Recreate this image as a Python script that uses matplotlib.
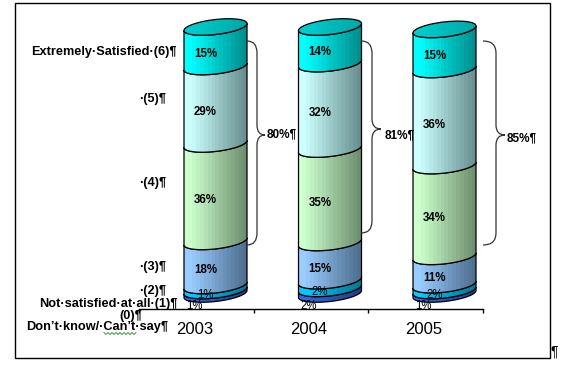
# -*- coding: utf-8 -*-
import numpy as np
import matplotlib
matplotlib.use("Agg")
import matplotlib.pyplot as plt
from matplotlib.patches import Polygon, PathPatch, Rectangle
from matplotlib.path import Path

plt.rcParams['font.family'] = ['Liberation Sans', 'DejaVu Sans']

years = ['2003', '2004', '2005']
# printed percentages
v2003 = [1, 1, 18, 36, 29, 15]
v2004 = [2, 2, 15, 35, 32, 14]
v2005 = [1, 2, 11, 34, 36, 15]
series = [v2003, v2004, v2005]
# layer heights as drawn (thin layers are thicker than their label says)
h2003 = [1.3, 1.9, 16.5, 36.5, 29, 14.8]
h2004 = [2.1, 2.9, 14.3, 35, 32, 13.7]
h2005 = [1.3, 2.2, 10.6, 34, 36, 15]
heights = [h2003, h2004, h2005]
brace_labels = ['80%', '81%', '85%']
level_labels = ['Extremely·Satisfied·(6)', '·(5)', '·(4)', '·(3)', '·(2)',
                'Not·satisfied·at·all·(1)', '(0)', 'Don’t·know/·Can’t·say']

# left and right colour of each layer, bottom to top
light = ['#3366dd', '#00ccff', '#99ccff', '#ccffcc', '#ccffff', '#00ffff']
dark = ['#223f88', '#007a99', '#4f7090', '#6f9070', '#6a9090', '#008f8f']

W, H = 561, 369
PX_PER_PCT = 2.67
Y0 = 294.0      # pixel row of 0%
X0 = 196.5      # pixel column of first category
STEP = 114.5

fig = plt.figure(figsize=(W/100, H/100), dpi=100)
ax = fig.add_axes([0, 0, 1, 1])


def xd(px):
    return (px - X0)/STEP


def yd(py):
    return (Y0 - py)/PX_PER_PCT


def front_arc(cx, v, n=40):
    # front half of the tilted ellipse, left to right
    t = np.linspace(np.pi, 2*np.pi, n)
    x = cx + 31.5*np.cos(t)
    y = Y0 - PX_PER_PCT*v - 7.5*np.sin(t) - 3.5*np.cos(t)
    return xd(x), yd(y)


def back_arc(cx, v, n=40):
    t = np.linspace(0, np.pi, n)
    x = cx + 31.5*np.cos(t)
    y = Y0 - PX_PER_PCT*v - 7.5*np.sin(t) - 3.5*np.cos(t)
    return xd(x), yd(y)


def gradient(c1, c2, n=16):
    a = np.array(matplotlib.colors.to_rgb(c1))
    b = np.array(matplotlib.colors.to_rgb(c2))
    f = np.clip((np.linspace(0, 1, n) - 0.08)/0.92, 0, 1)
    return (a + (b - a)*f[:, None])[None, :, :]


def shaded(pts, c1, c2, cx, z):
    poly = Polygon(pts, closed=True, fc='none', ec='black', lw=0.9, zorder=z+0.1)
    ax.add_patch(poly)
    im = ax.imshow(gradient(c1, c2), extent=[xd(cx-31.5), xd(cx+31.5), yd(330), yd(0)],
                   aspect='auto', interpolation='nearest', zorder=z)
    im.set_clip_path(poly)


for i, vals in enumerate(series):
    cx = X0 + STEP*i + 19
    cum = np.concatenate([[0], np.cumsum(heights[i])])
    z = 2
    for k in range(len(vals)):
        x1, y1 = front_arc(cx, cum[k])
        x2, y2 = front_arc(cx, cum[k+1])
        pts = np.column_stack([np.r_[x1, x2[::-1]], np.r_[y1, y2[::-1]]])
        shaded(pts, light[k], dark[k], cx, z)
        z += 1
        # percentage label
        if k == 0:
            ax.text(i - 0.02, yd(306), '%d%%' % vals[k], fontsize=8.3, ha='center',
                    va='center', zorder=20)
        elif k == 1:
            ax.text(xd(cx - 10), (cum[k] + cum[k+1])/2 - 7/PX_PER_PCT, '%d%%' % vals[k],
                    fontsize=8.3, ha='center', va='center', zorder=20)
        else:
            ax.text(xd(cx - 10), (cum[k] + cum[k+1])/2 - 7/PX_PER_PCT, '%d%%' % vals[k],
                    fontsize=8.3, fontweight='bold', ha='center', va='center', zorder=20)
    # top ellipse
    x1, y1 = front_arc(cx, cum[-1])
    x2, y2 = back_arc(cx, cum[-1])
    pts = np.column_stack([np.r_[x1, x2], np.r_[y1, y2]])
    shaded(pts, '#00cccc', '#00a8a8', cx, z)

# brackets: column right edge, bend column, top, bottom, tip, label column, label row
brackets = [(247, 257, 41, 245, 265, 267, 134),
            (361, 372, 41, 233, 381, 385, 135),
            (483, 496, 41, 245, 505, 507, 138)]
for (xa, xb, top, bot, tip, lx, ly), lab in zip(brackets, brace_labels):
    mid = (top + bot)/2 - 8
    p = [(xa, top), (xb, top), (xb, top+12),
         (xb, mid-10), (xb, mid), (tip, mid), (xb, mid), (xb, mid+10),
         (xb, bot-12), (xb, bot), (xa, bot)]
    codes = [Path.MOVETO, Path.CURVE3, Path.CURVE3,
             Path.LINETO, Path.CURVE3, Path.CURVE3, Path.CURVE3, Path.CURVE3,
             Path.LINETO, Path.CURVE3, Path.CURVE3]
    p = [(xd(a), yd(b)) for a, b in p]
    ax.add_patch(PathPatch(Path(p, codes), fc='none', ec='#333333', lw=0.9, zorder=15))
    ax.text(xd(lx), yd(ly), lab + '¶', fontsize=8.5, fontweight='bold', ha='left', va='center',
            zorder=25)

# left hand labels (right edge column, row)
label_pos = [(177, 52), (166, 99), (166, 183), (166, 267), (166, 291), (178, 304), (142, 316), (168, 327)]
for lab, (px, py) in zip(level_labels, label_pos):
    ax.text(xd(px), yd(py), lab + '¶', fontsize=9.2, fontweight='bold', ha='right', va='center',
            zorder=30)

# spell check squiggle under Can't
sx = np.arange(104, 138, 2)
sy = 333.5 + np.where(np.arange(len(sx)) % 2, 1.0, -1.0)
ax.plot(xd(sx), yd(sy), color='#3a9a3a', lw=0.7, zorder=31)

# outer frame
ax.add_patch(Rectangle((xd(15), yd(358)), xd(550) - xd(15), yd(3) - yd(358), fc='none', ec='black',
                       lw=1.0, zorder=1))
ax.text(xd(554), yd(352), '¶', fontsize=10, ha='center', va='center', zorder=30)

ax.set_xlim(xd(0), xd(W))
ax.set_ylim(yd(H), yd(0))
for s in ['top', 'left', 'right']:
    ax.spines[s].set_visible(False)
ax.spines['bottom'].set_position(('data', yd(309)))
ax.spines['bottom'].set_bounds(-0.5, 2.5)
ax.spines['bottom'].set_linewidth(1.0)
ax.set_yticks([])
ax.set_xticks([-0.5, 0.5, 1.5, 2.5])
ax.set_xticklabels([])
ax.tick_params(axis='x', which='major', length=3, width=1.0, direction='out')
ax.set_xticks([-0.02, 0.98, 1.98], minor=True)
ax.set_xticklabels(years, minor=True, fontsize=12)
ax.tick_params(axis='x', which='minor', length=0, pad=9)
ax.patch.set_visible(False)

fig.savefig('out.png', dpi=100)
